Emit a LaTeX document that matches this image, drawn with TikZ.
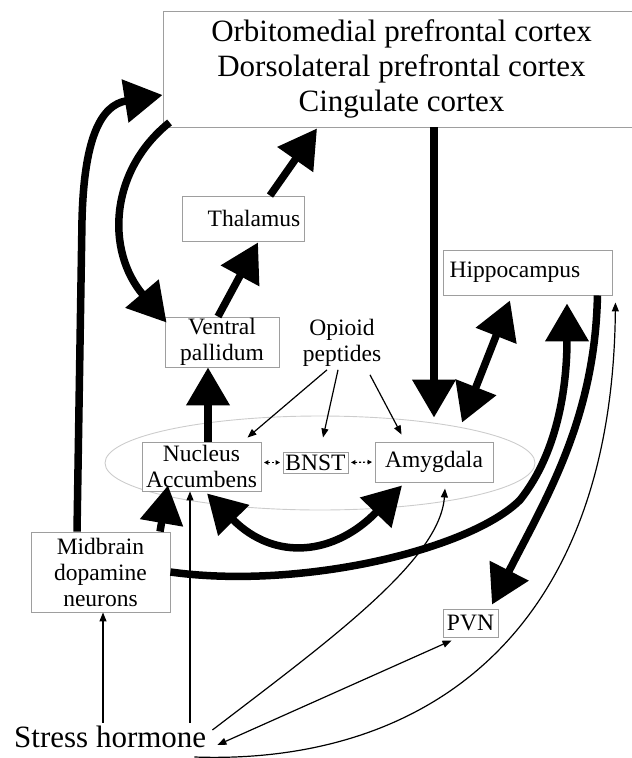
\documentclass[tikz,border=0pt]{standalone}
\usepackage{fontspec}
\setmainfont{Liberation Serif}
\usetikzlibrary{arrows.meta,calc}
\definecolor{boxgray}{gray}{0.62}
\definecolor{ellgray}{gray}{0.80}
\newcommand\lblfont{\fontsize{23.5}{26}\selectfont}
\newcommand\bigtxtfont{\fontsize{31}{35}\selectfont}
\tikzset{
  box/.style={draw=boxgray, line width=0.9pt, fill=white, inner sep=0pt, align=center, font=\lblfont},
  big/.style={line width=7.5pt, -{Triangle[length=38pt,width=42pt]}},
  bigboth/.style={line width=7.5pt, {Triangle[length=38pt,width=42pt]}-{Triangle[length=38pt,width=42pt]}},
  thin/.style={line width=1.2pt, -{Triangle[length=9pt,width=7pt]}},
  thinboth/.style={line width=1.2pt, {Triangle[length=9pt,width=7pt]}-{Triangle[length=9pt,width=7pt]}},
  dots/.style={line width=1.1pt, dash pattern=on 2pt off 2pt, {Triangle[length=4.5pt,width=4.5pt]}-{Triangle[length=4.5pt,width=4.5pt]}, shorten <=2.5pt, shorten >=2.5pt}
}
\begin{document}
\begin{tikzpicture}[x=1pt,y=-1pt]
\useasboundingbox (0,0) rectangle (632,758);
% ellipse region
\draw[ellgray, line width=0.9pt] (320,463) ellipse [x radius=215, y radius=47];
% nodes
\node[box, minimum width=477pt, minimum height=116pt, font=\bigtxtfont] (cortex) at (401.5,69) {Orbitomedial prefrontal cortex\\Dorsolateral prefrontal cortex\\Cingulate cortex};
\node[box, minimum width=122pt, minimum height=45pt] (thal) at (243,218.5) {\hspace*{22pt}Thalamus};
\node[box, minimum width=114pt, minimum height=50pt] (vp) at (222,342) {Ventral\\pallidum};
\node[font=\lblfont, align=center, inner sep=0pt] (opioid) at (342,343) {Opioid\\peptides};
\node[box, minimum width=169pt, minimum height=45pt] (hippo) at (527.5,272.5) {Hippocampus\hspace*{25pt}};
\node[box, minimum width=119pt, minimum height=49pt] (na) at (201.5,466.5) {Nucleus\\Accumbens};
\node[box, minimum width=65pt, minimum height=21pt] (bnst) at (315.5,462.5) {BNST};
\node[box, minimum width=118pt, minimum height=40pt] (amyg) at (434,462) {Amygdala};
\node[box, minimum width=139pt, minimum height=80pt] (mid) at (100.5,572) {Midbrain\\dopamine\\neurons};
\node[box, minimum width=55pt, minimum height=28pt] (pvn) at (470.5,623) {PVN};
\node[font=\bigtxtfont, anchor=west, inner sep=0pt] (stress) at (14,737) {Stress hormone};
% thick connectors
\draw[big] ($(mid.north)+(-23.5,0)$) -- (82,220) .. controls (84,140) and (100,105) .. ($(cortex.west)+(0,26)$);
\draw[big] ($(cortex.south west)+(7,-5)$) .. controls (110,170) and (105,250) .. ($(vp.north west)+(2,6)$);
\draw[big] ($(vp.north)+(-4,0)$) -- ($(thal.south)+(15,1)$);
\draw[big] ($(thal.north)+(27,0)$) -- ($(cortex.south)+(-84.5,1)$);
\draw[big, shorten >=24pt] (cortex.south -| amyg.north) -- (amyg.north);
\draw[bigboth] ($(hippo.south)+(-17.5,5)$) -- ($(amyg.north)+(28,-19)$);
\draw[big] ($(na.north)+(6.5,0)$) -- ($(vp.south)+(-14,0)$);
\draw[big] ($(mid.north)+(59.5,0)$) -- ($(na.south)+(-33.5,-6)$);
\draw[bigboth] ($(na.south)+(5.5,2)$) .. controls (275,562) and (335,555) .. ($(amyg.south)+(-32,3)$);
\draw[big] (mid.east) .. controls (300,590) and (470,550) .. (520,500) .. controls (560,450) and (567,380) .. ($(hippo.south)+(39.5,8)$);
\draw[big] ($(hippo.south east)+(-15,0)$) .. controls (595,420) and (545,500) .. ($(pvn.north)+(21.5,-4)$);
% thin connectors
\draw[thin] ($(stress.east)+(-12,20)$) .. controls (420,765) and (612,640) .. ($(hippo.south east)+(3,7)$);
\draw[thin] ($(stress.north -| mid.south)+(2.5,-3)$) -- ($(mid.south)+(2.5,0)$);
\draw[thin] ($(stress.north -| na.south)+(-11.5,-3)$) -- ($(na.south)+(-11.5,0)$);
\draw[thin] ($(stress.east)+(6,-7)$) .. controls (330,640) and (440,560) .. ($(amyg.south)+(11,6)$);
\draw[thinboth] ($(stress.east)+(11,8)$) -- ($(pvn.south west)+(9,3)$);
\draw[thin] ($(opioid.south)+(-15,3)$) -- ($(na.north east)+(-14,-4)$);
\draw[thin] ($(opioid.south)+(-4,3)$) -- ($(bnst.north)+(7.5,-14)$);
\draw[thin] ($(opioid.south)+(28,8)$) -- ($(amyg.north west)+(27,-7)$);
\draw[dots] (na.east |- bnst.west) -- (bnst.west);
\draw[dots] (bnst.east) -- (amyg.west);
\end{tikzpicture}
\end{document}
